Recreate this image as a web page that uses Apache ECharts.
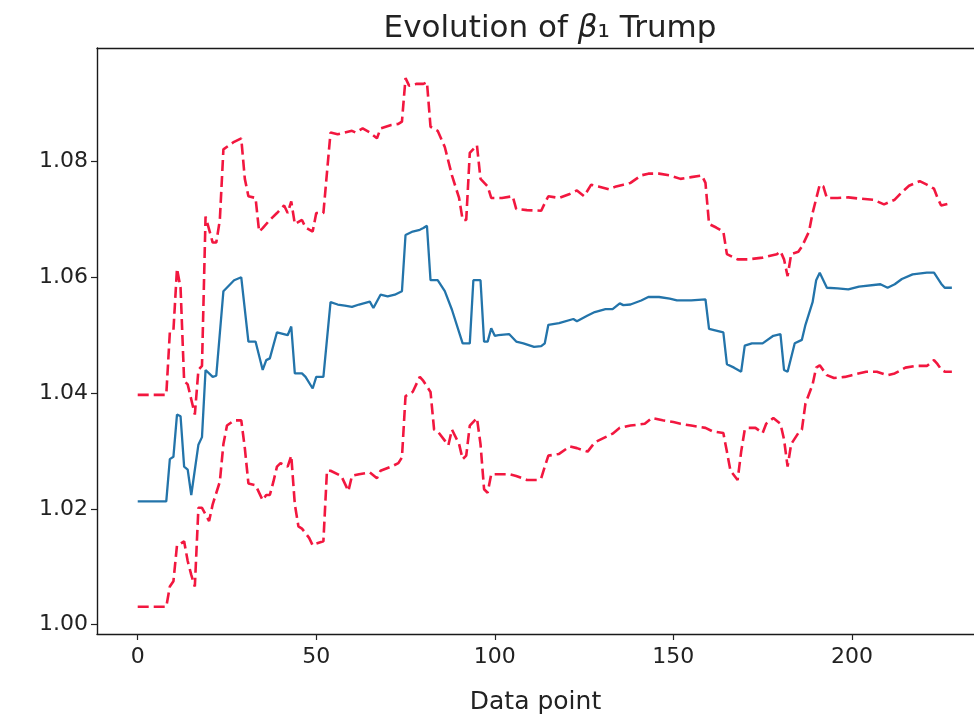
<!DOCTYPE html>
<html>
<head>
<meta charset="utf-8">
<script src="https://cdn.jsdelivr.net/npm/echarts@6/dist/echarts.min.js"></script>
<style>
  html, body { margin: 0; padding: 0; background: #ffffff; }
  #chart { width: 974px; height: 721px; }
</style>
</head>
<body>
<div id="chart"></div>
<script>
// Estimate of beta_1 per data point, with upper and lower bands.
const fitX = [0,8,9,10,11,12,13,14,15,17,18,19,21,22,24,27,29,31,33,35,36,37,39,42,43,44,46,47,49,50,52,54,56,58,60,62,65,66,68,70,72,74,75,77,79,80,81,82,84,86,88,91,93,94,96,97,98,99,100,101,104,106,108,111,113,114,115,118,122,123,126,128,131,133,135,136,138,141,143,146,149,151,155,159,160,164,165,167,169,170,172,175,178,180,181,182,184,186,187,189,190,191,193,196,199,202,208,210,212,214,217,221,223,225,226,228];
const fitY = [1.0213,1.0213,1.0286,1.0290,1.0363,1.0360,1.0273,1.0268,1.0224,1.0311,1.0324,1.0440,1.0428,1.0430,1.0576,1.0595,1.0600,1.0489,1.0489,1.0440,1.0457,1.0460,1.0505,1.0500,1.0515,1.0434,1.0434,1.0428,1.0408,1.0428,1.0428,1.0557,1.0553,1.0551,1.0549,1.0553,1.0558,1.0547,1.0570,1.0567,1.0570,1.0576,1.0673,1.0679,1.0682,1.0685,1.0689,1.0595,1.0595,1.0576,1.0544,1.0486,1.0486,1.0595,1.0595,1.0489,1.0489,1.0512,1.0499,1.0500,1.0502,1.0489,1.0486,1.0480,1.0481,1.0486,1.0518,1.0521,1.0528,1.0524,1.0534,1.0540,1.0545,1.0545,1.0555,1.0552,1.0553,1.0560,1.0566,1.0566,1.0563,1.0560,1.0560,1.0562,1.0511,1.0505,1.0450,1.0444,1.0437,1.0482,1.0486,1.0486,1.0499,1.0502,1.0440,1.0437,1.0486,1.0492,1.0518,1.0557,1.0595,1.0608,1.0582,1.0581,1.0579,1.0584,1.0588,1.0582,1.0588,1.0597,1.0605,1.0608,1.0608,1.0589,1.0582,1.0582];

const upperX = [0,8,9,10,11,12,13,14,15,16,17,18,19,21,22,23,24,27,29,30,31,33,34,35,37,39,41,42,43,44,46,47,49,50,52,54,56,58,60,61,63,65,67,68,71,73,74,75,76,78,80,81,82,84,86,88,90,91,92,93,95,96,98,99,102,105,106,109,113,114,115,118,121,123,125,127,129,132,134,136,138,141,143,146,149,152,155,158,159,160,162,164,165,168,171,175,179,180,181,182,183,185,186,188,189,191,192,193,196,199,202,206,209,212,214,216,219,221,223,224,225,227,228];
const upperY = [1.0397,1.0397,1.0505,1.0508,1.0615,1.0582,1.0421,1.0415,1.0389,1.0363,1.0440,1.0447,1.0705,1.0660,1.0660,1.0699,1.0821,1.0834,1.0840,1.0770,1.0740,1.0737,1.0679,1.0685,1.0699,1.0711,1.0724,1.0711,1.0731,1.0692,1.0699,1.0686,1.0679,1.0711,1.0711,1.0850,1.0847,1.0850,1.0853,1.0850,1.0857,1.0850,1.0840,1.0857,1.0863,1.0865,1.0869,1.0944,1.0931,1.0934,1.0934,1.0937,1.0860,1.0853,1.0825,1.0776,1.0737,1.0699,1.0699,1.0815,1.0828,1.0770,1.0757,1.0737,1.0737,1.0740,1.0718,1.0716,1.0715,1.0728,1.0740,1.0737,1.0744,1.0750,1.0740,1.0760,1.0757,1.0752,1.0757,1.0760,1.0763,1.0776,1.0779,1.0779,1.0776,1.0770,1.0773,1.0776,1.0763,1.0692,1.0686,1.0679,1.0640,1.0631,1.0631,1.0634,1.0640,1.0645,1.0631,1.0602,1.0640,1.0644,1.0653,1.0679,1.0711,1.0760,1.0757,1.0737,1.0737,1.0738,1.0736,1.0734,1.0726,1.0734,1.0747,1.0758,1.0766,1.0760,1.0753,1.0737,1.0724,1.0727,1.0724];

const lowerX = [0,8,9,10,11,12,13,14,15,16,17,18,20,21,23,24,25,27,29,30,31,33,35,36,37,38,39,40,42,43,44,45,46,48,49,50,52,53,54,57,59,60,62,65,67,68,71,73,74,75,77,79,80,82,83,84,86,87,88,90,91,92,93,95,96,97,98,99,104,106,109,112,113,114,115,118,121,123,126,128,131,133,135,138,142,144,147,150,152,155,159,161,164,165,166,168,169,170,171,173,175,176,178,180,181,182,183,185,186,187,189,190,191,193,195,198,200,204,207,210,212,215,218,221,223,224,225,226,228];
const lowerY = [1.0031,1.0031,1.0066,1.0075,1.0137,1.0140,1.0144,1.0110,1.0086,1.0066,1.0202,1.0202,1.0179,1.0208,1.0247,1.0312,1.0344,1.0353,1.0353,1.0305,1.0244,1.0241,1.0215,1.0224,1.0224,1.0247,1.0273,1.0279,1.0273,1.0292,1.0208,1.0170,1.0166,1.0150,1.0137,1.0140,1.0144,1.0266,1.0266,1.0257,1.0231,1.0257,1.0260,1.0263,1.0253,1.0266,1.0273,1.0279,1.0289,1.0395,1.0402,1.0428,1.0421,1.0402,1.0337,1.0334,1.0318,1.0310,1.0337,1.0312,1.0286,1.0292,1.0344,1.0357,1.0312,1.0234,1.0228,1.0260,1.0260,1.0257,1.0250,1.0250,1.0253,1.0273,1.0292,1.0295,1.0308,1.0305,1.0299,1.0315,1.0324,1.0330,1.0340,1.0344,1.0347,1.0357,1.0353,1.0350,1.0347,1.0344,1.0340,1.0334,1.0331,1.0299,1.0266,1.0250,1.0299,1.0337,1.0340,1.0340,1.0331,1.0347,1.0357,1.0347,1.0320,1.0273,1.0312,1.0331,1.0337,1.0382,1.0415,1.0444,1.0448,1.0431,1.0426,1.0428,1.0431,1.0437,1.0437,1.0431,1.0434,1.0444,1.0447,1.0447,1.0457,1.0450,1.0441,1.0437,1.0437];

const xTicks = [0, 50, 100, 150, 200];
const yTicks = [1.00, 1.02, 1.04, 1.06, 1.08];

const pairs = (xs, ys) => xs.map((x, k) => [x, ys[k]]);

const FONT = '"DejaVu Sans", sans-serif';
const INK = '#222222';
const spine = { show: true, onZero: false, lineStyle: { color: '#1a1a1a', width: 1.4 } };
const chart = echarts.init(document.getElementById('chart'), null, { renderer: 'canvas' });

chart.setOption({
  backgroundColor: '#ffffff',
  animation: false,
  title: {
    text: 'Evolution of {b|β}₁ Trump',
    left: 545,
    top: 8,
    textAlign: 'center',
    textStyle: {
      fontFamily: FONT,
      fontSize: 31,
      fontWeight: 'normal',
      color: INK,
      rich: {
        b: { fontFamily: FONT, fontSize: 31, fontStyle: 'italic', color: INK }
      }
    }
  },
  grid: { left: 97, top: 48, right: 0, bottom: 87, show: false },
  xAxis: [
    {
      type: 'value',
      position: 'bottom',
      min: -11.4,
      max: 234.2,
      name: 'Data point',
      nameLocation: 'middle',
      nameGap: 56,
      nameTextStyle: { fontFamily: FONT, fontSize: 25, color: INK },
      axisLine: spine,
      splitLine: { show: false },
      axisTick: {
        show: true, length: 6, inside: false, customValues: xTicks,
        lineStyle: { color: INK, width: 1.2 }
      },
      axisLabel: {
        customValues: xTicks,
        fontFamily: FONT, fontSize: 22, color: INK, margin: 12
      }
    },
    {
      type: 'value',
      position: 'top',
      min: -11.4,
      max: 234.2,
      axisLine: spine,
      axisTick: { show: false },
      axisLabel: { show: false },
      splitLine: { show: false }
    }
  ],
  yAxis: {
    type: 'value',
    min: 0.9984,
    max: 1.0996,
    axisLine: spine,
    splitLine: { show: false },
    axisTick: {
      show: true, length: 6, inside: false, customValues: yTicks,
      lineStyle: { color: INK, width: 1.2 }
    },
    axisLabel: {
      customValues: yTicks,
      formatter: v => v.toFixed(2),
      fontFamily: FONT, fontSize: 22, color: INK, margin: 9
    }
  },
  series: [
    {
      name: 'upper',
      type: 'line',
      data: pairs(upperX, upperY),
      showSymbol: false,
      lineStyle: { color: '#f2173f', width: 2.6, type: [11, 5] },
      z: 2
    },
    {
      name: 'lower',
      type: 'line',
      data: pairs(lowerX, lowerY),
      showSymbol: false,
      lineStyle: { color: '#f2173f', width: 2.6, type: [11, 5] },
      z: 2
    },
    {
      name: 'beta1',
      type: 'line',
      data: pairs(fitX, fitY),
      showSymbol: false,
      lineStyle: { color: '#2374aa', width: 2.3 },
      z: 3
    }
  ]
});
</script>
</body>
</html>
